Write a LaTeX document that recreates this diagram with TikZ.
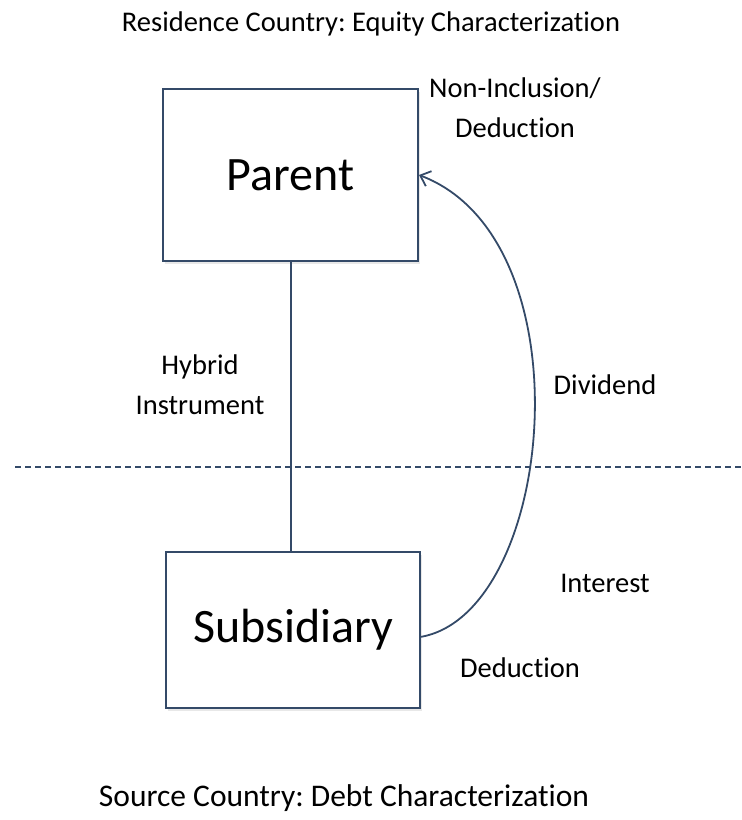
\documentclass[tikz,border=0pt]{standalone}
\usepackage{fontspec}
\setmainfont{Carlito}[Ligatures=NoCommon]
\usetikzlibrary{positioning, arrows.meta, shadows}
\definecolor{slateline}{RGB}{52, 74, 104}
\frenchspacing

\begin{document}
\begin{tikzpicture}[x=1pt, y=-1pt, every node/.style={font=\fontsize{28.5}{40}\selectfont, align=center},
    entity/.style={draw=slateline, fill=white, line width=2pt, font=\fontsize{48}{54}\selectfont,
      drop shadow={opacity=0.18, shadow xshift=2pt, shadow yshift=-3pt}}]
      \useasboundingbox (0,0) rectangle (742,820);
      \node (res) at (371,24) {Residence Country: Equity Characterization};
      \node[entity, minimum width=255pt, minimum height=172pt] (parent) at (290.5,175) {Parent};
      \node[entity, minimum width=254pt, minimum height=156pt] (sub) at (293,630) {Subsidiary};
      \coordinate (bl) at (15,467);
      \coordinate (br) at (742,467);
      \coordinate (pay) at (420,637);
      \draw[slateline, line width=2pt] (parent.south) -- (parent.south |- sub.north);
      \draw[slateline, line width=2pt, dash pattern=on 6pt off 4pt] (bl) -- (br);
      \draw[slateline, line width=1.8pt, -{Straight Barb[length=9pt, width=16pt]}]
        (pay) .. controls (555,615) and (590,240) .. (parent.east);
      \node (noninc) at (515,108) {Non-Inclusion/\\Deduction};
      \node (hybrid) at (200,385) {Hybrid\\Instrument};
      \node (div) at (605,385) {Dividend};
      \node (int) at (605,583) {Interest};
      \node (ded) at (520,668) {Deduction};
      \node[font=\fontsize{31.5}{38}\selectfont] (src) at (344,798) {Source Country: Debt Characterization};
    \end{tikzpicture}
\end{document}
